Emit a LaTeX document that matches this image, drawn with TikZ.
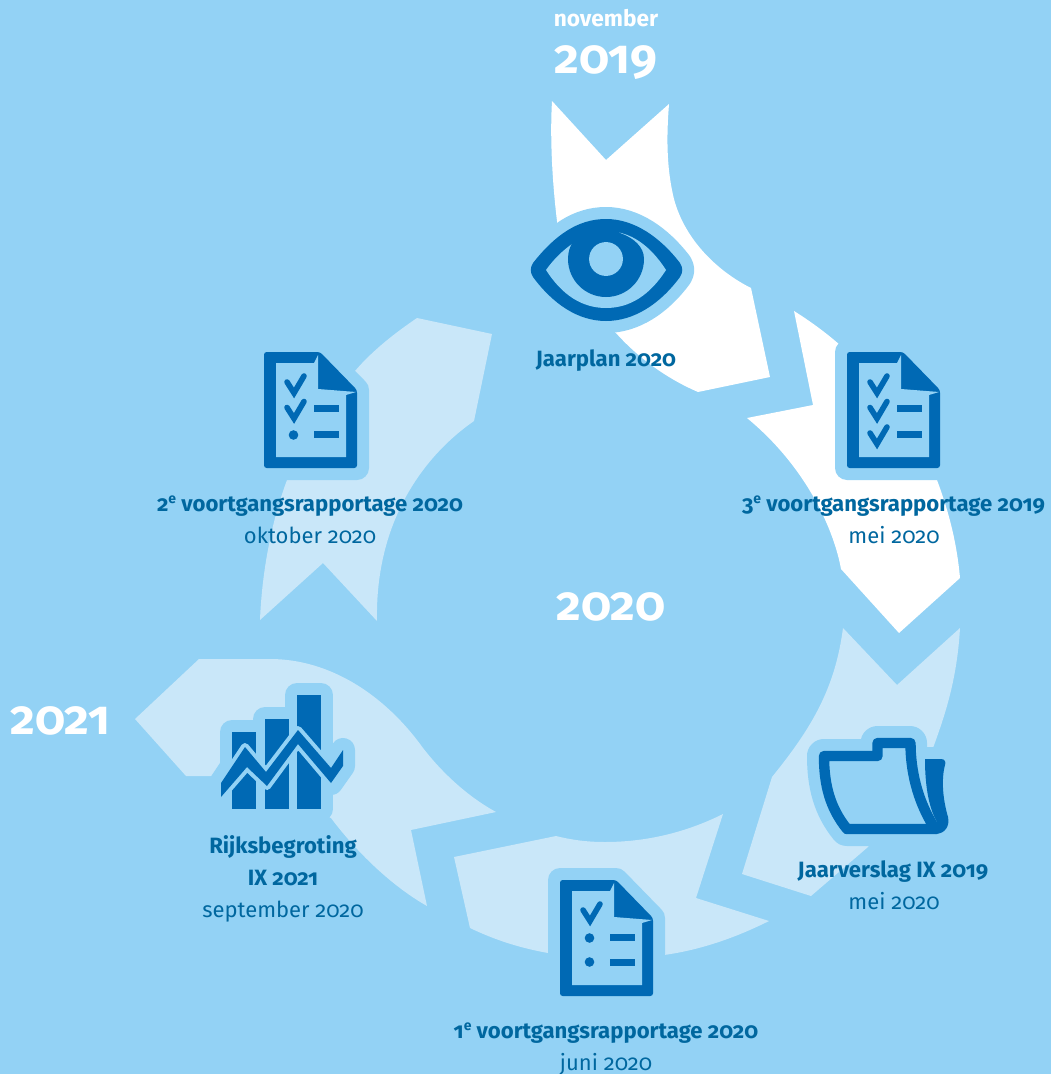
\documentclass[tikz,border=0pt]{standalone}
\usepackage{fontspec}
\setmainfont{Fira Sans}[Numbers=OldStyle]
\definecolor{sky}{HTML}{93D2F5}
\definecolor{pale}{HTML}{C9E7F9}
\definecolor{iconblue}{HTML}{0069B4}
\definecolor{textblue}{HTML}{00679F}

\tikzset{
  halo/.style={draw=sky,fill=sky,line width=18pt,line join=round},
  tick/.style={draw=iconblue,line width=4.2pt,line cap=round},
  title node/.style={anchor=base,inner sep=0pt,text=textblue,font=\fontsize{16.6}{20}\selectfont\bfseries},
  date node/.style={anchor=base,inner sep=0pt,text=textblue,font=\fontsize{16.5}{20}\selectfont},
  year node/.style={anchor=base,inner sep=0pt,text=white,font=\fontsize{36}{40}\selectfont\bfseries},
}

% small raised e after a number
\newcommand{\ordsup}{\raisebox{.33em}{\fontsize{10.5}{10.5}\selectfont e}}

% document icon, #1 #2 is the top left corner, #3 the lines on the page
\newcommand{\docicon}[3]{
  \begin{scope}[shift={(#1,#2)}]
    \path[halo] (0,0) -- (56,0) -- (93,38) -- (93,116) -- (0,116) -- cycle;
    \fill[iconblue,rounded corners=2pt] (0,0) -- (56,0) -- (93,38) -- (93,116) -- (0,116) -- cycle;
    \fill[sky] (12,11) -- (50,11) -- (54,3) -- (54,37) -- (92,40) -- (82,43) -- (82,105) -- (12,105) -- cycle;
    #3
  \end{scope}}
\newcommand{\doctick}[1]{\draw[tick] (23,#1+30) -- (30,#1+41) -- (40,#1+24);}
\newcommand{\docbar}[1]{\fill[iconblue] (50,#1) rectangle (75,#1+7);}
\newcommand{\docdot}[1]{\fill[iconblue] (29.5,#1) circle (3.6pt);}

\begin{document}
\begin{tikzpicture}[x=.75pt,y=-.75pt]
  \useasboundingbox (0,0) rectangle (1051,1074);
  \fill[sky] (0,0) rectangle (1051,1074);

  % arrows
  \fill[white] (552,101) -- (606,160) -- (669,104) .. controls (667,130) and (666,160) .. (672,190)
    .. controls (680,235) and (715,270) .. (751,288) -- (770,377) -- (698,392)
    .. controls (670,380) and (640,360) .. (616,333) -- (570,290)
    .. controls (560,260) and (548,170) .. (552,101) -- cycle;
  \fill[white] (794,311) .. controls (810,321) and (825,332) .. (840,345) -- (937,480)
    .. controls (950,515) and (957,545) .. (960,578) -- (899,633) -- (841,569)
    .. controls (835,535) and (810,470) .. (747,418) -- (813,405) -- cycle;
  \fill[pale] (843,628) -- (897,685) -- (960,628) .. controls (957,680) and (945,715) .. (933,748)
    -- (868,847) -- (811,896) -- (742,874) -- (772,777)
    .. controls (810,730) and (835,690) .. (843,628) -- cycle;
  \fill[pale] (723,814) .. controls (685,833) and (645,842) .. (605,842)
    .. controls (587,842) and (572,840) .. (556,836) -- (454,857) -- (470,928)
    .. controls (495,940) and (520,948) .. (548,953) -- (664,955)
    .. controls (700,950) and (735,938) .. (769,921) -- (696,898) -- cycle;
  \fill[pale] (135,719) -- (199,659) -- (270,659) .. controls (330,659) and (385,695) .. (423,748)
    .. controls (440,770) and (465,795) .. (496,812) -- (411,830) -- (427,906)
    .. controls (390,885) and (355,850) .. (331,818) -- (240,776) -- (186,776) -- cycle;
  \fill[pale] (417,318) -- (492,334) -- (474,421) .. controls (425,455) and (375,520) .. (377,621)
    -- (323,563) -- (260,620) .. controls (262,570) and (272,520) .. (287,480) -- (355,371)
    .. controls (373,350) and (395,333) .. (417,318) -- cycle;

  % eye
  \path[halo] (533,263) .. controls (555,235) and (578,219) .. (606,219) .. controls (634,219) and (660,237) .. (680,263)
    .. controls (683,268) and (683,272) .. (680,277) .. controls (660,304) and (634,321) .. (606,321)
    .. controls (578,321) and (553,304) .. (533,277) .. controls (530,272) and (530,268) .. (533,263) -- cycle;
  \fill[iconblue] (533,263) .. controls (555,235) and (578,219) .. (606,219) .. controls (634,219) and (660,237) .. (680,263)
    .. controls (683,268) and (683,272) .. (680,277) .. controls (660,304) and (634,321) .. (606,321)
    .. controls (578,321) and (553,304) .. (533,277) .. controls (530,272) and (530,268) .. (533,263) -- cycle;
  \fill[sky] (546,270) .. controls (560,250) and (585,231) .. (606,231) .. controls (630,231) and (650,245) .. (666,270)
    .. controls (650,295) and (630,308) .. (606,308) .. controls (582,308) and (562,295) .. (546,270) -- cycle;
  \fill[iconblue] (620,233) .. controls (634,238) and (644,247) .. (644,259) .. controls (644,280) and (627,297) .. (606,297)
    .. controls (585,297) and (568,280) .. (568,259) .. controls (568,252) and (570,246) .. (573,242) -- (590,225) -- (610,225) -- cycle;
  \fill[sky] (606,259) circle (12.7pt);

  % documents
  \docicon{847}{352}{\doctick{0}\doctick{25.5}\doctick{51}\docbar{53}\docbar{79}}
  \docicon{264}{352}{\doctick{0}\doctick{25.5}\docdot{83}\docbar{53}\docbar{79}}
  \docicon{560}{880}{\doctick{0}\docdot{58}\docdot{82}\docbar{54}\docbar{79}}

  % folder
  \draw[sky,fill=sky,line width=25.5pt,line join=round] (847,829) .. controls (830,808) and (824,785) .. (824,756)
    -- (877.5,756) -- (877.5,743) -- (910,743) .. controls (910,770) and (917,800) .. (934,829) -- cycle;
  \path[halo] (925,759) -- (941,759) -- (945,765) -- (948,817) -- (935,834) -- (925,829) -- cycle;
  \draw[iconblue,line width=7.8pt,line join=round] (937,829) -- (847,829) .. controls (830,808) and (824,785) .. (824,756)
    -- (877.5,756) -- (877.5,743) -- (910.5,743) .. controls (910.5,770) and (917,800) .. (934,827);
  \fill[iconblue] (925,759) -- (941,759) .. controls (945,759) and (946,762) .. (945,765) .. controls (941,780) and (943,800) .. (948,817)
    .. controls (950,826) and (945,834) .. (935,834) -- (930,829) -- (937,822) .. controls (930,810) and (925,790) .. (925,759) -- cycle;

  % chart
  \path[halo] (232,732) rectangle (256,809);
  \path[halo] (265,719) rectangle (289,809);
  \path[halo] (297,695) rectangle (321,809);
  \path[halo] (221,783) -- (245,747) -- (266,772) -- (298,730) -- (331,768) -- (343,750)
    -- (343,766) -- (331,783) -- (298,744) -- (267,786) -- (247,767) -- (221,797) -- cycle;
  \fill[iconblue] (232,732) rectangle (256,809);
  \fill[iconblue] (265,719) rectangle (289,809);
  \fill[iconblue] (297,695) rectangle (321,809);
  \draw[sky,line width=6pt,line join=round] (221,783) -- (245,747) -- (266,772) -- (298,730) -- (331,768) -- (343,750)
    -- (343,766) -- (331,783) -- (298,744) -- (267,786) -- (247,767) -- (221,797) -- cycle;
  \fill[iconblue] (221,783) -- (245,747) -- (266,772) -- (298,730) -- (331,768) -- (343,750)
    -- (343,766) -- (331,783) -- (298,744) -- (267,786) -- (247,767) -- (221,797) -- cycle;

  % texts
  \node[year node,font=\fontsize{17}{20}\selectfont\bfseries] (november) at (606,27) {november};
  \node[year node] (y2019) at (606,74) {2019};
  \node[year node] (y2020) at (611,620) {2020};
  \node[year node] (y2021) at (60,734) {2021};
  \node[title node] (jaarplan) at (606,366) {Jaarplan 2020};
  \node[title node] (derde) at (893.5,511) {3\ordsup{} voortgangsrapportage 2019};
  \node[date node] (derdedate) at (894,543) {mei 2020};
  \node[title node] (tweede) at (310,511) {2\ordsup{} voortgangsrapportage 2020};
  \node[date node] (tweededate) at (310,543) {oktober 2020};
  \node[title node] (verslag) at (893,877) {Jaarverslag IX 2019};
  \node[date node] (verslagdate) at (894,909) {mei 2020};
  \node[title node] (rijks) at (283,853) {Rijksbegroting};
  \node[title node] (rijksix) at (283,885.5) {IX 2021};
  \node[date node] (rijksdate) at (283,917) {september 2020};
  \node[title node] (eerste) at (606,1038) {1\ordsup{} voortgangsrapportage 2020};
  \node[date node] (eerstedate) at (606,1070) {juni 2020};
\end{tikzpicture}
\end{document}
